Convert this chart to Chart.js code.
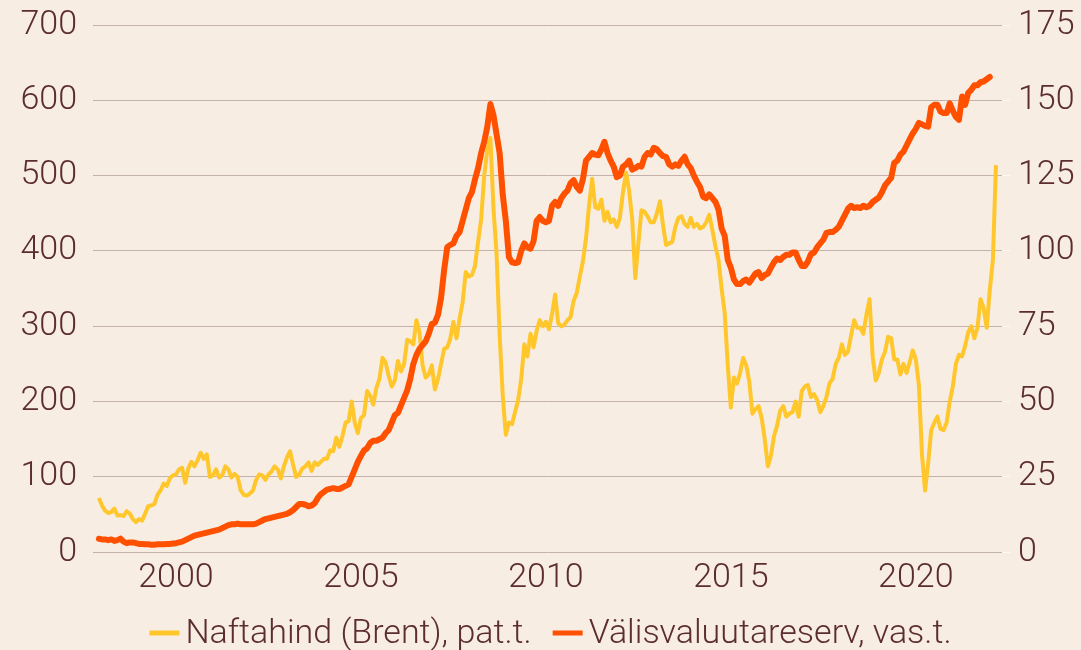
<!DOCTYPE html>
<html>
<head>
<meta charset="utf-8">
<script src="https://cdn.jsdelivr.net/npm/chart.js@4/dist/chart.umd.min.js"></script>
<style>
  html, body { margin: 0; padding: 0; background: #f8ede3; }
  #wrap { width: 1081px; height: 650px; position: relative; }
</style>
</head>
<body>
<div id="wrap"><canvas id="c" width="1081" height="650"></canvas></div>
<script>
// ---- DATA ----
// Monthly observations, first point = December 1997
const startYear = 1997;
const startMonth = 12;

const seriesNames = ["Naftahind (Brent), pat.t.", "Välisvaluutareserv, vas.t."];

// Brent oil price, USD per barrel (right axis)
const brentValues = [
  18.0,
  15.5, 13.8, 13.0, 13.3, 14.5, 12.2, 12.3, 12.0, 13.6, 12.8, 11.0, 10.0,
  11.0, 10.5, 12.8, 15.3, 15.5, 16.0, 19.0, 20.5, 22.8, 22.0, 24.5, 25.5,
  25.8, 27.5, 28.0, 23.0, 27.8, 30.0, 28.5, 30.5, 33.0, 31.0, 32.5, 25.0,
  25.5, 27.5, 24.8, 25.5, 28.5, 27.5, 24.8, 26.0, 25.0, 20.5, 19.0, 18.8,
  19.5, 20.5, 24.0, 25.8, 25.5, 24.0, 25.8, 26.8, 28.5, 27.5, 24.5, 28.5,
  31.5, 33.5, 29.0, 25.0, 25.8, 27.8, 28.5, 29.8, 27.0, 29.8, 29.0, 30.0,
  31.0, 31.0, 33.8, 33.5, 38.0, 35.0, 38.5, 43.0, 43.5, 50.0, 43.0, 39.5,
  44.5, 45.5, 53.5, 52.0, 49.0, 54.5, 57.5, 64.5, 63.0, 58.5, 55.0, 57.0,
  63.5, 60.0, 62.5, 70.5, 70.0, 69.0, 77.0, 73.0, 62.0, 58.0, 59.0, 62.0,
  54.0, 57.5, 62.5, 67.5, 68.0, 71.0, 76.5, 71.0, 77.5, 83.0, 93.0, 91.5,
  92.0, 95.0, 103.0, 110.5, 125.0, 133.5, 137.5, 114.0, 99.0, 72.0, 52.0, 39.0,
  43.0, 42.5, 46.5, 50.5, 57.5, 69.0, 65.0, 72.5, 68.0, 73.5, 77.0, 75.0,
  76.5, 74.0, 79.0, 85.5, 76.0, 75.0, 75.5, 77.0, 78.0, 83.5, 86.0, 91.5,
  96.5, 104.0, 115.0, 124.0, 114.5, 114.0, 117.0, 110.0, 113.0, 109.5, 110.5, 108.0,
  111.0, 119.5, 126.0, 120.0, 110.5, 91.0, 102.5, 113.5, 113.0, 111.5, 109.5, 109.5,
  112.5, 116.5, 108.5, 102.0, 102.5, 103.0, 108.0, 111.0, 111.5, 109.0, 108.0, 111.0,
  108.0, 109.0, 107.5, 108.0, 109.5, 112.0, 107.0, 101.5, 97.0, 87.5, 79.5, 62.0,
  48.0, 58.0, 56.0, 59.5, 64.5, 62.0, 56.5, 46.0, 47.5, 48.5, 44.5, 37.5,
  28.5, 32.0, 38.5, 42.0, 47.0, 48.5, 45.0, 46.0, 46.5, 50.0, 45.0, 53.5,
  55.0, 55.5, 51.5, 52.5, 50.5, 46.5, 48.5, 51.5, 56.0, 57.5, 62.5, 64.5,
  69.0, 65.5, 66.5, 72.0, 77.0, 74.5, 74.5, 72.5, 79.0, 84.0, 65.0, 57.0,
  59.5, 64.0, 66.5, 71.5, 71.0, 64.0, 64.0, 59.0, 62.5, 59.5, 63.0, 67.0,
  64.0, 55.5, 32.5, 20.5, 29.5, 40.5, 43.0, 45.0, 41.0, 40.5, 43.0, 50.0,
  55.0, 62.5, 65.5, 65.0, 68.5, 73.0, 75.0, 71.0, 74.5, 84.0, 81.0, 74.5,
  87.0, 97.0, 128.5
];

// Foreign exchange reserves, bn USD (left axis)
const reserveValues = [
  17.8,
  17, 17, 16, 17, 15, 16, 18, 14, 12, 13, 13, 12,
  11, 11, 10.5, 10.5, 10, 10, 10.5, 10.5, 10.5, 11, 11, 11.5,
  12, 13, 14, 16, 18, 20, 22, 23, 24, 25, 26, 27,
  28, 29, 30, 32, 34, 36, 37, 37, 38, 37, 37, 37,
  37, 37, 38, 40, 42, 44, 45, 46, 47, 48, 49, 50,
  51, 53, 56, 60, 64, 64, 63, 61, 62, 65, 72, 77,
  80, 83, 84, 85, 84, 84, 86, 88, 90, 100, 110, 120,
  128, 135, 138, 145, 148, 148, 150, 152, 158, 162, 172, 182,
  185, 195, 205, 215, 230, 250, 262, 270, 275, 280, 290, 303,
  305, 315, 338, 375, 405, 408, 410, 420, 425, 440, 455, 470,
  478, 495, 510, 530, 545, 565, 595, 580, 555, 530, 475, 440,
  392, 385, 384, 385, 400, 410, 405, 403, 413, 440, 445, 440,
  438, 440, 460, 465, 460, 470, 476, 480, 490, 494, 485, 480,
  495, 520, 525, 530, 528, 527, 535, 545, 530, 520, 512, 498,
  500, 512, 515, 520, 508, 510, 513, 512, 525, 530, 528, 537,
  535, 530, 526, 525, 515, 512, 515, 513, 520, 525, 515, 510,
  500, 492, 485, 472, 470, 475, 470, 465, 455, 430, 420, 388,
  378, 362, 356, 356, 360, 362, 358, 364, 370, 372, 364, 368,
  370, 378, 385, 390, 388, 392, 395, 395, 398, 398, 388, 380,
  380, 386, 396, 398, 405, 410, 415, 424, 425, 425, 428, 432,
  440, 448, 456, 460, 457, 458, 457, 460, 458, 460, 465, 468,
  471, 478, 487, 492, 497, 517, 520, 528, 532, 540, 548, 556,
  562, 570, 568, 566, 565, 591, 594, 594, 585, 583, 583, 596,
  586, 578, 574, 605, 594, 610, 614, 620, 620, 624, 625, 628,
  631
];

const xTickYears = [2000, 2005, 2010, 2015, 2020];
const leftTicks = [0, 100, 200, 300, 400, 500, 600, 700];
const rightTicks = [0, 25, 50, 75, 100, 125, 150, 175];

// ---- BUILD ----
const t0 = startYear + (startMonth - 1) / 12;
const toPoints = (arr) => arr.map((v, i) => ({ x: t0 + i / 12, y: v }));

const TEXT = '#5b2d2d';
const GRID = '#c4b1aa';
const FONT = { family: 'Roboto, "Open Sans", sans-serif', size: 34, weight: '300' };
const YELLOW = '#ffc72c';
const ORANGE = '#ff5000';

// Legend drawn below the plot, centred on the chart area
const legendPlugin = {
  id: 'bottomLegend',
  afterDraw(chart) {
    const ctx = chart.ctx;
    const ca = chart.chartArea;
    ctx.save();
    ctx.font = `${FONT.weight} ${FONT.size}px ${FONT.family}`;
    ctx.textBaseline = 'middle';
    ctx.textAlign = 'left';
    const items = [
      { text: seriesNames[0], color: YELLOW },
      { text: seriesNames[1], color: ORANGE }
    ];
    const boxW = 30, gap = 6, itemGap = 21;
    const widths = items.map(it => ctx.measureText(it.text).width);
    const total = items.length * (boxW + gap) + widths.reduce((a, b) => a + b, 0) + itemGap * (items.length - 1);
    let x = (ca.left + ca.right) / 2 - total / 2 + 3;
    const y = 633;
    items.forEach((it, i) => {
      ctx.fillStyle = it.color;
      ctx.fillRect(x, y - 2.5, boxW, 5);
      x += boxW + gap;
      ctx.fillStyle = TEXT;
      ctx.fillText(it.text, x, y + 1);
      x += widths[i] + itemGap;
    });
    ctx.restore();
  }
};

const noVPad = (s) => { s.paddingTop = 0; s.paddingBottom = 0; };

new Chart(document.getElementById('c'), {
  type: 'line',
  data: {
    datasets: [
      {
        label: seriesNames[1],
        data: toPoints(reserveValues),
        yAxisID: 'y',
        borderColor: ORANGE,
        backgroundColor: ORANGE,
        borderWidth: 6,
        pointRadius: 0,
        tension: 0,
        borderJoinStyle: 'round',
        borderCapStyle: 'round'
      },
      {
        label: seriesNames[0],
        data: toPoints(brentValues),
        yAxisID: 'y2',
        borderColor: YELLOW,
        backgroundColor: YELLOW,
        borderWidth: 4,
        pointRadius: 0,
        tension: 0,
        borderJoinStyle: 'round'
      }
    ]
  },
  plugins: [legendPlugin],
  options: {
    responsive: false,
    animation: false,
    devicePixelRatio: 1,
    layout: { padding: { left: 0, right: 0, top: 25, bottom: 45 } },
    plugins: {
      tooltip: { enabled: false },
      legend: { display: false }
    },
    scales: {
      x: {
        type: 'linear',
        min: 1997.757,
        max: 2022.33,
        grid: { display: false, drawTicks: false },
        border: { display: false },
        afterBuildTicks: (s) => { s.ticks = xTickYears.map(v => ({ value: v })); },
        afterFit: (s) => { s.paddingLeft = 0; s.paddingRight = 0; },
        ticks: { color: TEXT, font: FONT, padding: 6, maxRotation: 0, autoSkip: false, callback: (v) => String(v) }
      },
      y: {
        position: 'left',
        min: 0, max: 700,
        afterBuildTicks: (s) => { s.ticks = leftTicks.map(v => ({ value: v })); },
        afterFit: (s) => { s.width = 93; noVPad(s); },
        grid: { color: GRID, lineWidth: 1, drawTicks: false },
        border: { display: false },
        ticks: { color: TEXT, font: FONT, padding: 16 }
      },
      y2: {
        position: 'right',
        min: 0, max: 175,
        afterBuildTicks: (s) => { s.ticks = rightTicks.map(v => ({ value: v })); },
        afterFit: (s) => { s.width = 79; noVPad(s); },
        grid: { drawOnChartArea: false, drawTicks: true, tickLength: 8, color: '#fdf8f2' },
        border: { display: false },
        ticks: { color: TEXT, font: FONT, padding: 8 }
      }
    }
  }
});
</script>
</body>
</html>
